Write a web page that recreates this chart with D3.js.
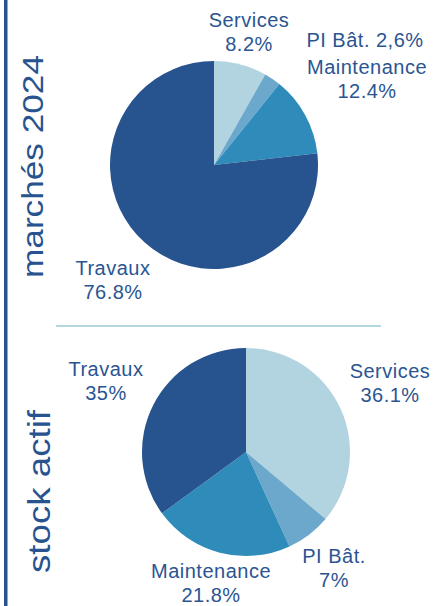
<!DOCTYPE html>
<html>
<head>
<meta charset="utf-8">
<script src="https://cdn.jsdelivr.net/npm/d3@7"></script>
<style>
  html, body { margin: 0; padding: 0; background: #ffffff; }
  svg { display: block; }
</style>
</head>
<body>
<script>
// ---- data ----
const categories = ["Services", "PI Bât.", "Maintenance", "Travaux"];
const valuesMarches2024 = [8.2, 2.6, 12.4, 76.8];
const labelsMarches2024 = [["Services", "8.2%"], ["PI Bât. 2,6%"], ["Maintenance", "12.4%"], ["Travaux", "76.8%"]];
const valuesStockActif = [36.1, 7, 21.8, 35];
const labelsStockActif = [["Services", "36.1%"], ["PI Bât.", "7%"], ["Maintenance", "21.8%"], ["Travaux", "35%"]];
const panelTitles = ["marchés 2024", "stock actif"];

// ---- styles / layout ----
const W = 435, H = 606;
const dark = "#27538f";
const color = d3.scaleOrdinal()
  .domain(categories)
  .range(["#b2d4e0", "#6ca8cb", "#2e8bba", "#27538f"]);
const textColor = "#2a5592";
const font = "'Liberation Sans', Arial, sans-serif";

const svg = d3.select("body").append("svg")
  .attr("width", W).attr("height", H);

// left vertical bar
svg.append("rect").attr("x", 4).attr("y", 0).attr("width", 3.5).attr("height", H).attr("fill", dark);

// divider
svg.append("line").attr("x1", 56).attr("x2", 381).attr("y1", 326).attr("y2", 326)
  .attr("stroke", "#b4d8e2").attr("stroke-width", 2);

const pie = d3.pie().sort(null).value(d => d.v);
const arc = d3.arc().innerRadius(0).outerRadius(104);

const panels = [
  { cx: 214, cy: 165, values: valuesMarches2024, labels: labelsMarches2024,
    labelPos: [[249, 27], [365, 46.5], [367, 73.5], [113, 275]],
    title: panelTitles[0], titleX: 43, titleY: 166.5, titleSize: 29, titleLen: 223 },
  { cx: 246, cy: 452, values: valuesStockActif, labels: labelsStockActif,
    labelPos: [[390, 378], [334, 563], [211, 578], [106, 375.5]],
    title: panelTitles[1], titleX: 50, titleY: 491.5, titleSize: 32, titleLen: 163 }
];

panels.forEach(p => {
  const data = categories.map((c, i) => ({ c, v: p.values[i], label: p.labels[i] }));
  const g = svg.append("g").attr("transform", `translate(${p.cx},${p.cy})`);
  g.selectAll("path").data(pie(data)).join("path")
    .attr("d", arc)
    .attr("fill", d => color(d.data.c));

  data.forEach((d, i) => {
    const [lx, ly] = p.labelPos[i];
    const t = svg.append("text")
      .attr("x", lx).attr("y", ly)
      .attr("text-anchor", "middle")
      .attr("fill", textColor)
      .style("font-family", font)
      .style("font-size", "20px")
      .style("letter-spacing", "0.5px");
    d.label.forEach((line, j) => {
      t.append("tspan").attr("x", lx).attr("dy", j === 0 ? 0 : 24).text(line);
    });
  });

  svg.append("text")
    .attr("transform", `translate(${p.titleX},${p.titleY}) rotate(-90)`)
    .attr("text-anchor", "middle")
    .attr("fill", dark)
    .attr("textLength", p.titleLen)
    .attr("lengthAdjust", "spacingAndGlyphs")
    .style("font-family", font)
    .style("font-size", p.titleSize + "px")
    .text(p.title);
});
</script>
</body>
</html>
